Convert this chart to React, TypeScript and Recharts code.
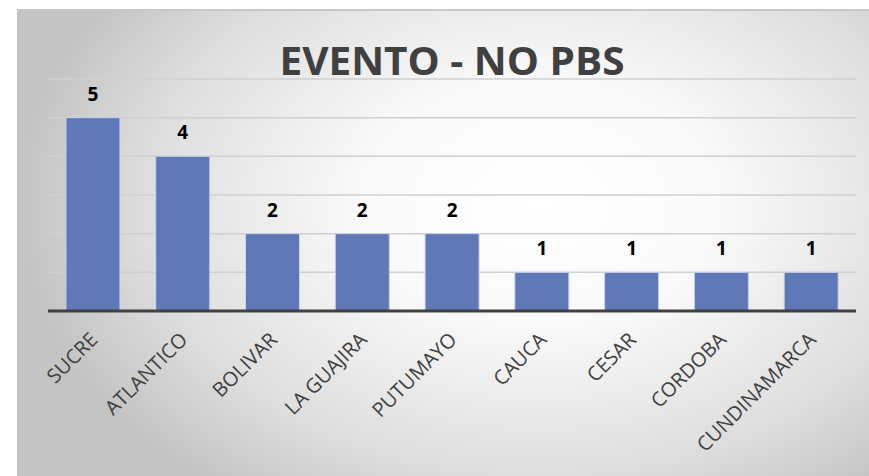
import React from 'react';
import { BarChart, Bar, XAxis, YAxis, CartesianGrid, LabelList } from 'recharts';

const departamentos = [
    'SUCRE',
    'ATLANTICO',
    'BOLIVAR',
    'LA GUAJIRA',
    'PUTUMAYO',
    'CAUCA',
    'CESAR',
    'CORDOBA',
    'CUNDINAMARCA',
];
const casos = [5, 4, 2, 2, 2, 1, 1, 1, 1];
const yTicks = [0, 1, 2, 3, 4, 5, 6];

const data = departamentos.map((name, i) => ({ name, casos: casos[i] }));

const FONT = '"Open Sans", "Noto Sans", sans-serif';

const SlantTick = (props: any) => {
    const { x, y, payload } = props;
    const tx = x + 6;
    const ty = y + 30;
    return (
        <text
            x={tx}
            y={ty}
            textAnchor="end"
            transform={`rotate(-45, ${tx}, ${ty})`}
            fontFamily={FONT}
            fontSize={20}
            fill="#404040"
        >
            {payload.value}
        </text>
    );
};

const App: React.FC = () => {
    return (
        <div style={{ position: 'absolute', left: 0, top: 0, width: 869, height: 476, background: '#ffffff', overflow: 'hidden' }}>
            <div
                style={{
                    position: 'absolute',
                    left: 17,
                    top: 9,
                    width: 870,
                    height: 480,
                    borderLeft: '1px solid #c4c4c4',
                    borderTop: '2px solid #c8c8c8',
                    background: 'radial-gradient(ellipse 60% 75% at 60% 40%, #ffffff 0%, #f9f9f9 35%, #dedede 75%, #c4c4c4 100%)',
                }}
            >
                <svg width={852} height={80} style={{ position: 'absolute', left: 0, top: 0 }}>
                    <text
                        x={434}
                        y={64}
                        textAnchor="middle"
                        fontFamily={FONT}
                        fontWeight={700}
                        fontSize={40}
                        fill="#404040"
                        textLength={345}
                        lengthAdjust="spacingAndGlyphs"
                    >
                        EVENTO - NO PBS
                    </text>
                </svg>
                <div style={{ position: 'absolute', left: 0, top: 0 }}>
                    <BarChart
                        width={852}
                        height={467}
                        data={data}
                        margin={{ top: 68, right: 14, left: 30, bottom: 0 }}
                        barCategoryGap="20%"
                    >
                        <CartesianGrid vertical={false} stroke="#d0d0d0" strokeWidth={1.5} />
                        <YAxis hide domain={[0, 6]} ticks={yTicks} />
                        <XAxis
                            dataKey="name"
                            interval={0}
                            height={167}
                            tickLine={false}
                            tickSize={0}
                            tickMargin={0}
                            axisLine={{ stroke: '#404040', strokeWidth: 3 }}
                            tick={<SlantTick />}
                        />
                        <Bar dataKey="casos" fill="#5f78b7" stroke="#c9d3ea" strokeWidth={1} isAnimationActive={false}>
                            <LabelList
                                dataKey="casos"
                                position="top"
                                offset={17}
                                fill="#000000"
                                fontFamily={FONT}
                                fontWeight={700}
                                fontSize={19}
                            />
                        </Bar>
                    </BarChart>
                </div>
            </div>
        </div>
    );
};

export default App;
